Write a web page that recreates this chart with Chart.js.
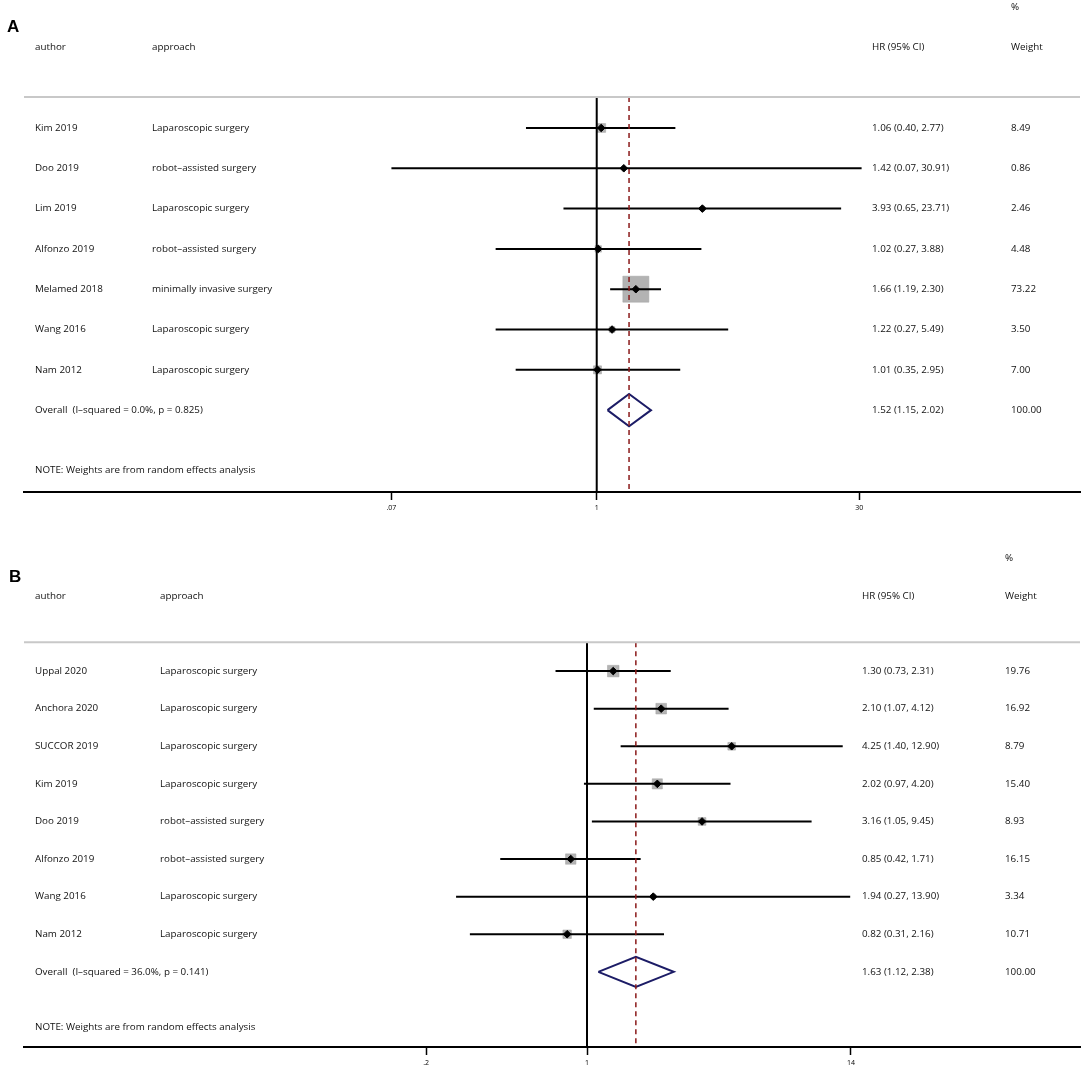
<!DOCTYPE html>
<html>
<head>
<meta charset="utf-8">
<script src="https://cdn.jsdelivr.net/npm/chart.js@4.4.0/dist/chart.umd.min.js"></script>
<style>
  body { margin: 0; background: #fff; }
  canvas { display: block; }
</style>
</head>
<body>
<canvas id="chartA" width="1084" height="512"></canvas>
<canvas id="chartB" width="1084" height="555"></canvas>
<script>
// Panel A data
const authorsA = ['Kim 2019', 'Doo 2019', 'Lim 2019', 'Alfonzo 2019', 'Melamed 2018', 'Wang 2016', 'Nam 2012'];
const approachA = ['Laparoscopic surgery', 'robot\u2013assisted surgery', 'Laparoscopic surgery', 'robot\u2013assisted surgery',
                   'minimally invasive surgery', 'Laparoscopic surgery', 'Laparoscopic surgery'];
const hrA = [1.06, 1.42, 3.93, 1.02, 1.66, 1.22, 1.01];
const lowA = [0.40, 0.07, 0.65, 0.27, 1.19, 0.27, 0.35];
const highA = [2.77, 30.91, 23.71, 3.88, 2.30, 5.49, 2.95];
const weightA = [8.49, 0.86, 2.46, 4.48, 73.22, 3.50, 7.00];
const overallA = [1.52, 1.15, 2.02];
const overallLabelA = 'Overall  (I\u2013squared = 0.0%, p = 0.825)';
const tickValsA = [0.07, 1, 30];
const tickLabelsA = ['.07', '1', '30'];

// Panel B data
const authorsB = ['Uppal 2020', 'Anchora 2020', 'SUCCOR 2019', 'Kim 2019', 'Doo 2019', 'Alfonzo 2019', 'Wang 2016', 'Nam 2012'];
const approachB = ['Laparoscopic surgery', 'Laparoscopic surgery', 'Laparoscopic surgery', 'Laparoscopic surgery',
                   'robot\u2013assisted surgery', 'robot\u2013assisted surgery', 'Laparoscopic surgery', 'Laparoscopic surgery'];
const hrB = [1.30, 2.10, 4.25, 2.02, 3.16, 0.85, 1.94, 0.82];
const lowB = [0.73, 1.07, 1.40, 0.97, 1.05, 0.42, 0.27, 0.31];
const highB = [2.31, 4.12, 12.90, 4.20, 9.45, 1.71, 13.90, 2.16];
const weightB = [19.76, 16.92, 8.79, 15.40, 8.93, 16.15, 3.34, 10.71];
const overallB = [1.63, 1.12, 2.38];
const overallLabelB = 'Overall  (I\u2013squared = 36.0%, p = 0.141)';
const tickValsB = [0.2, 1, 14];
const tickLabelsB = ['.2', '1', '14'];

const TEXT_FONT = '9.8px "Open Sans", Lato, sans-serif';
const ruleRow = -0.77;

function fmt(v) { return v.toFixed(2); }

function buildForest(canvasId, cfg) {
    const n = cfg.hr.length;
    const maxW = Math.max(...cfg.weights);
    const yMax = n + cfg.bottomRows;

    const datasets = [];
    // weight boxes
    datasets.push({
        data: cfg.hr.map((v, i) => ({ x: v, y: i })),
        pointStyle: 'rect',
        pointRadius: cfg.weights.map(w => cfg.boxMax * Math.sqrt(w / maxW) / Math.SQRT2),
        backgroundColor: '#b3b3b3',
        borderColor: '#a0a0a0',
        borderWidth: 0.5,
        showLine: false,
        order: 6
    });
    // null line at HR = 1
    datasets.push({
        data: [{ x: 1, y: ruleRow }, { x: 1, y: yMax }],
        showLine: true, pointRadius: 0, borderColor: '#000', borderWidth: 2, order: 5
    });
    // confidence intervals
    cfg.hr.forEach((v, i) => {
        datasets.push({
            data: [{ x: cfg.low[i], y: i }, { x: cfg.high[i], y: i }],
            showLine: true, pointRadius: 0, borderColor: '#000', borderWidth: 2, order: 4
        });
    });
    // overall diamond
    const [est, lo, hi] = cfg.overall;
    datasets.push({
        data: [{ x: lo, y: n }, { x: est, y: n - 0.4 }, { x: hi, y: n }, { x: est, y: n + 0.4 }, { x: lo, y: n }],
        showLine: true, pointRadius: 0, borderColor: '#1c1c66', borderWidth: 2, backgroundColor: '#fff',
        fill: false, tension: 0, order: 3
    });
    // overall effect dashed line
    datasets.push({
        data: [{ x: est, y: ruleRow }, { x: est, y: yMax }],
        showLine: true, pointRadius: 0, borderColor: '#8b1a1a', borderWidth: 1.5, borderDash: [5, 4], order: 2
    });
    // point estimates
    datasets.push({
        data: cfg.hr.map((v, i) => ({ x: v, y: i })),
        pointStyle: 'rectRot', pointRadius: 3.8, backgroundColor: '#000', borderColor: '#000', borderWidth: 1,
        showLine: false, order: 1
    });

    const textPlugin = {
        id: 'forestText',
        afterDraw(chart) {
            const c = chart.ctx;
            const y = chart.scales.y;
            const area = chart.chartArea;
            const col = cfg.cols;
            c.save();
            // rule under header
            c.strokeStyle = '#c8c8c8';
            c.lineWidth = 2;
            c.beginPath();
            c.moveTo(area.left, y.getPixelForValue(ruleRow));
            c.lineTo(area.right, y.getPixelForValue(ruleRow));
            c.stroke();

            c.fillStyle = '#000';
            c.textBaseline = 'middle';
            c.font = 'bold 17px "Liberation Sans", Arial, sans-serif';
            c.fillText(cfg.letter, cfg.letterX, y.getPixelForValue(-2.5));

            c.fillStyle = '#111';
            c.font = TEXT_FONT;
            c.fillText('%', col.weight, y.getPixelForValue(-3));
            const hy = y.getPixelForValue(-2);
            c.fillText('author', col.author, hy);
            c.fillText('approach', col.approach, hy);
            c.fillText('HR (95% CI)', col.hr, hy);
            c.fillText('Weight', col.weight, hy);

            cfg.authors.forEach((a, i) => {
                const py = y.getPixelForValue(i);
                c.fillText(a, col.author, py);
                c.fillText(cfg.approach[i], col.approach, py);
                c.fillText(`${fmt(cfg.hr[i])} (${fmt(cfg.low[i])}, ${fmt(cfg.high[i])})`, col.hr, py);
                c.fillText(fmt(cfg.weights[i]), col.weight, py);
            });
            const oy = y.getPixelForValue(n);
            c.fillText(cfg.overallLabel, col.author, oy);
            c.fillText(`${fmt(est)} (${fmt(lo)}, ${fmt(hi)})`, col.hr, oy);
            c.fillText('100.00', col.weight, oy);
            c.fillText('NOTE: Weights are from random effects analysis', col.author, y.getPixelForValue(n + 1.48));
            c.restore();
        }
    };

    return new Chart(document.getElementById(canvasId), {
        type: 'scatter',
        data: { datasets: datasets },
        options: {
            responsive: false,
            animation: false,
            layout: { autoPadding: false, padding: { left: 24, right: 4, top: 0, bottom: 0 } },
            plugins: { legend: { display: false }, tooltip: { enabled: false } },
            scales: {
                x: {
                    type: 'logarithmic',
                    min: Math.exp(cfg.lnMin),
                    max: Math.exp(cfg.lnMax),
                    border: { display: true, color: '#000', width: 2 },
                    grid: { display: true, drawOnChartArea: false, drawTicks: true, tickLength: 8, tickColor: '#000', tickWidth: 1.5 },
                    ticks: {
                        autoSkip: false, maxRotation: 0, padding: 4, color: '#000',
                        font: { size: 7, family: '"Open Sans", sans-serif' },
                        callback: (v, i) => cfg.tickLabels[i]
                    },
                    afterBuildTicks: s => { s.ticks = cfg.ticks.map(v => ({ value: v })); },
                    afterFit: s => { s.height = 20; }
                },
                y: { type: 'linear', reverse: true, min: cfg.yMin, max: yMax, display: false }
            }
        },
        plugins: [textPlugin]
    });
}

buildForest('chartA', {
    letter: 'A', letterX: 7,
    authors: authorsA, approach: approachA, hr: hrA, low: lowA, high: highA, weights: weightA,
    overall: overallA, overallLabel: overallLabelA,
    ticks: tickValsA, tickLabels: tickLabelsA,
    lnMin: -7.40, lnMax: 6.26, yMin: -3.174, bottomRows: 2.03, boxMax: 26,
    cols: { author: 35, approach: 152, hr: 872, weight: 1011 }
});

buildForest('chartB', {
    letter: 'B', letterX: 9,
    authors: authorsB, approach: approachB, hr: hrB, low: lowB, high: highB, weights: weightB,
    overall: overallB, overallLabel: overallLabelB,
    ticks: tickValsB, tickLabels: tickLabelsB,
    lnMin: -5.63, lnMax: 4.93, yMin: -4.232, bottomRows: 2.0, boxMax: 11.5,
    cols: { author: 35, approach: 160, hr: 862, weight: 1005 }
});
</script>
</body>
</html>
